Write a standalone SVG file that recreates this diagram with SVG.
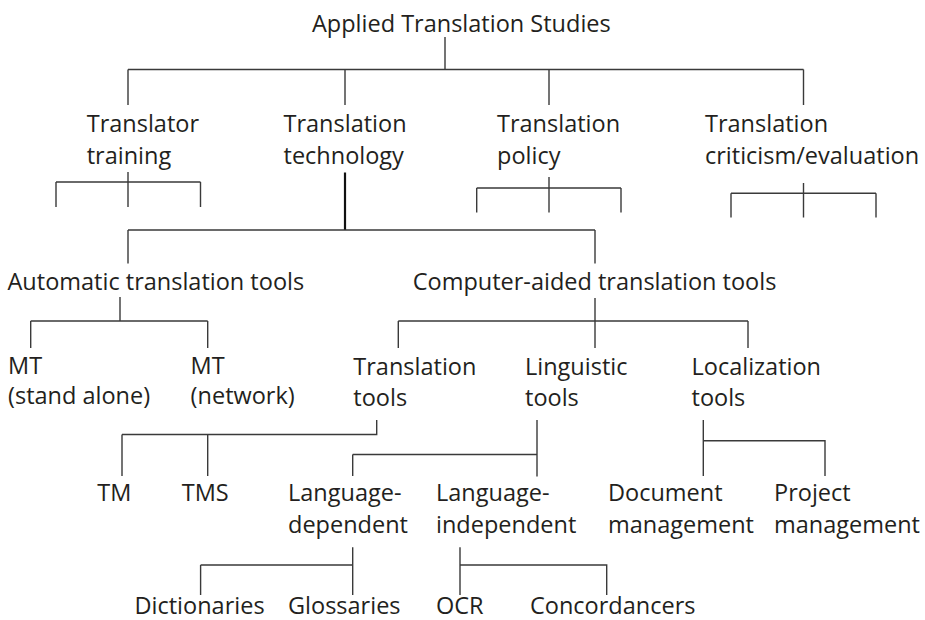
<svg xmlns="http://www.w3.org/2000/svg" width="925" height="620" viewBox="0 0 925 620">
<style>
text{font-family:"Open Sans","Noto Sans","Liberation Sans",sans-serif;font-size:23.5px;fill:#231f20}
.c path{fill:none;stroke:#3a3a3a;stroke-width:1.4}
.c path.thick{stroke:#111;stroke-width:2.2}
</style>
<rect width="925" height="620" fill="#fff"/>
<g class="c" id="connectors">
<path d="M445 37V69.5M128 69.5H803.5M128 69.5V105M345 69.5V105M549 69.5V105M803.5 69.5V105"/>
<path d="M128 172V182M56 182H200.5M56 182V207M128 182V207M200.5 182V207"/>
<path class="thick" d="M345 172.5V230"/>
<path d="M128 230H595M128 230V263.5M595 230V263.5"/>
<path d="M549 177V212.5M476.7 188H621M476.7 188V212.5M621 188V212.5"/>
<path d="M803.5 183V217.5M731 193.3H876M731 193.3V217.5M876 193.3V217.5"/>
<path d="M120 297V321M30.7 321H207.7M30.7 321V348M207.7 321V348"/>
<path d="M595 298V348M398.3 321H748M398.3 321V348M748 321V348"/>
<path d="M376.7 420V434.5H122M122 434.5V476M207.7 434.5V476"/>
<path d="M537 420V476.5M352.7 454.5H537M352.7 454.5V476"/>
<path d="M703.3 420V476M703.3 440.7H825V476"/>
<path d="M352.7 547.3V595M200.6 565H352.7M200.6 565V595"/>
<path d="M460 547.3V595M460 565H606.7V595"/>
</g>
<g id="n-applied"><text x="312" y="31.5">Applied Translation Studies</text></g>
<g id="n-training"><text x="86.7" y="132">Translator</text><text x="86.7" y="163.5">training</text></g>
<g id="n-technology"><text x="283.5" y="132">Translation</text><text x="283.5" y="163.5">technology</text></g>
<g id="n-policy"><text x="497" y="132">Translation</text><text x="497" y="163.5">policy</text></g>
<g id="n-criticism"><text x="705" y="132">Translation</text><text x="705" y="163.5">criticism/evaluation</text></g>
<g id="n-automatic"><text x="7.5" y="289.5">Automatic translation tools</text></g>
<g id="n-cat"><text x="412.7" y="289.5">Computer-aided translation tools</text></g>
<g id="n-mt-stand"><text x="8" y="374">MT</text><text x="8" y="404">(stand alone)</text></g>
<g id="n-mt-network"><text x="190.6" y="374">MT</text><text x="190.6" y="404">(network)</text></g>
<g id="n-translation-tools"><text x="353.3" y="374.5">Translation</text><text x="353.3" y="405.5">tools</text></g>
<g id="n-linguistic-tools"><text x="525" y="374.5">Linguistic</text><text x="525" y="405.5">tools</text></g>
<g id="n-localization-tools"><text x="691.5" y="374.5">Localization</text><text x="691.5" y="405.5">tools</text></g>
<g id="n-tm"><text x="97.3" y="501">TM</text></g>
<g id="n-tms"><text x="181.7" y="501">TMS</text></g>
<g id="n-lang-dep"><text x="288" y="501">Language-</text><text x="288" y="532.5">dependent</text></g>
<g id="n-lang-indep"><text x="436" y="501">Language-</text><text x="436" y="532.5">independent</text></g>
<g id="n-document"><text x="608" y="501">Document</text><text x="608" y="532.5">management</text></g>
<g id="n-project"><text x="774" y="501">Project</text><text x="774" y="532.5">management</text></g>
<g id="n-dictionaries"><text x="134.5" y="613.5">Dictionaries</text></g>
<g id="n-glossaries"><text x="288" y="613.5">Glossaries</text></g>
<g id="n-ocr"><text x="436" y="613.5">OCR</text></g>
<g id="n-concordancers"><text x="530" y="613.5">Concordancers</text></g>
</svg>
